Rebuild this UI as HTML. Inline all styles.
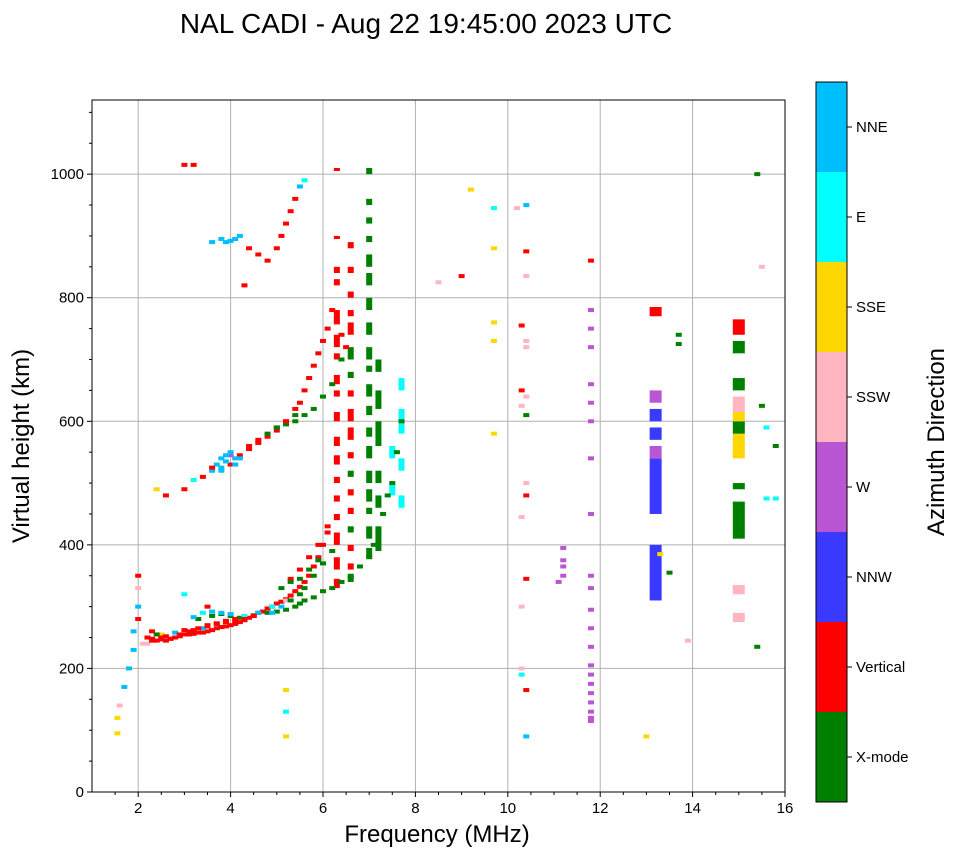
<!DOCTYPE html>
<html><head><meta charset="utf-8"><style>
body{margin:0;background:#fff;font-family:"Liberation Sans",sans-serif}
</style></head><body>
<svg id="chart" width="958" height="857" xmlns="http://www.w3.org/2000/svg">
<text x="426" y="33" font-size="28" text-anchor="middle" font-family="Liberation Sans">NAL CADI - Aug 22 19:45:00 2023 UTC</text>
<g id="grid"></g>
<g id="marks"></g>
<rect x="92" y="100" width="693" height="692" fill="none" stroke="#000" stroke-width="1"/>
<g id="axes"></g>
<text x="437" y="842" font-size="24" text-anchor="middle">Frequency (MHz)</text>
<text transform="translate(29,446) rotate(-90)" font-size="24" text-anchor="middle">Virtual height (km)</text>
<g id="cbar"></g>
<text transform="translate(944,442) rotate(-90)" font-size="24" text-anchor="middle">Azimuth Direction</text>
</svg>
<script>
const colorNames=["X-mode","Vertical","NNW","W","SSW","SSE","E","NNE"];
const colorVals=["#008000","#ff0000","#3a3aff","#ba55d3","#ffb6c1","#ffd700","#00ffff","#00bfff"];
const xTicks=[2,4,6,8,10,12,14,16];
const yTicks=[0,200,400,600,800,1000];
const ptF=[2.2,2.3,2.4,2.5,2.6,2.7,2.8,2.9,3.0,3.1,3.2,3.3,3.4,3.5,3.6,3.7,3.8,3.9,4.0,4.1,4.2,4.3,4.4,4.5,4.6,4.7,4.8,4.9,5.0,5.1,5.2,5.3,5.4,5.5,5.6,5.7,5.8,5.9,6.0,6.1,
3.3,3.6,3.8,4.0,4.2,4.5,4.8,5.0,5.2,5.4,5.5,5.6,5.8,6.0,6.2,6.4,6.6,6.8,7.0,7.1,7.2,7.3,7.4,7.5,7.6,7.7,
3.2,3.4,3.6,3.8,4.0,4.3,4.6,4.9,5.2,3.0,3.5,2.3,2.2,2.5,
3.0,3.2,3.4,3.6,3.8,4.0,4.1,4.2,4.4,4.6,4.8,5.0,5.2,5.4,5.5,5.6,5.7,5.8,5.9,6.0,6.1,6.2,6.3,6.4,6.5,
5.0,5.2,5.4,5.6,5.8,6.0,6.2,6.4,3.7,3.8,3.9,4.0,4.1,2.6,2.4,
3.6,3.8,3.9,4.0,4.1,4.2,4.4,4.6,4.8,5.0,5.1,5.2,5.3,5.4,5.5,5.6,3.0,3.2,4.3,
2.0,2.0,2.0,1.9,1.9,1.8,1.7,1.6,1.55,1.55,2.0,2.1,
5.2,5.2,5.2,8.5,9.0,9.2,9.7,9.7,9.7,9.7,9.7,
10.2,10.4,10.4,10.4,10.3,10.4,10.4,10.3,10.4,10.3,10.4,10.4,10.4,10.3,10.4,10.3,10.3,10.3,10.4,10.4,
11.2,11.2,11.2,11.2,11.1,
11.8,11.8,11.8,11.8,11.8,11.8,11.8,11.8,11.8,11.8,11.8,11.8,11.8,11.8,11.8,11.8,11.8,11.8,11.8,11.8,11.8,11.8,
13.0,13.3,13.5,13.7,13.7,13.9,15.4,15.5,15.5,15.6,15.6,15.8,15.4,15.8,
2.4,2.6,2.8,3.0,3.2,3.4,3.5,3.7,3.9,4.1,4.3,4.5,2.3,2.5,2.7,2.9,3.1,3.3,3.5,3.7,3.9,4.1,
5.3,5.5,5.7,5.9,6.1,5.6,5.8,6.0,6.2,5.1,5.3,5.5,5.7,5.9,
3.9,4.0,4.2,3.8,3.6,4.4,4.6,4.8,5.0,5.2,5.4,4.9,5.1,5.3,5.5];
const ptH=[250,248,245,247,245,248,250,252,255,255,256,258,258,260,262,265,267,268,270,272,275,278,282,285,290,292,297,300,305,308,312,318,325,332,340,350,365,380,400,420,
280,285,288,285,282,286,290,292,295,300,305,310,315,325,330,340,350,365,380,400,420,450,480,500,550,600,
283,290,292,290,288,285,290,300,310,320,300,260,240,255,
490,505,510,520,525,530,540,545,555,565,575,585,600,620,630,650,670,690,710,730,750,780,760,740,720,
590,595,600,610,620,640,660,700,530,540,535,545,530,480,490,
890,895,890,892,895,900,880,870,860,880,900,920,940,960,980,990,1015,1015,820,
350,330,300,260,230,200,170,140,120,95,280,240,
165,130,90,825,835,975,945,880,760,730,580,
945,950,875,835,755,730,720,650,640,625,610,500,480,445,345,300,200,190,165,90,
395,375,365,350,340,
860,780,750,720,660,630,600,540,450,350,330,295,265,235,205,190,175,160,145,130,115,120,
90,385,355,740,725,245,1000,850,625,590,475,560,235,475,
255,252,258,262,262,265,268,272,275,278,280,285,245,250,248,255,260,265,270,273,277,280,
345,360,380,400,430,330,350,370,390,330,340,345,360,375,
545,550,540,520,525,560,570,580,590,600,610,290,300,310,320];
const ptC=[1,1,1,1,1,1,1,1,1,1,1,1,1,1,1,1,1,1,1,1,1,1,1,1,1,1,1,1,1,1,1,1,1,1,1,1,1,1,1,1,
0,0,0,0,0,0,0,0,0,0,0,0,0,0,0,0,0,0,0,0,0,0,0,0,0,0,
7,6,7,7,7,6,7,6,4,6,1,1,4,5,
1,6,1,7,7,1,7,1,1,1,1,1,1,1,1,1,1,1,1,1,1,1,1,1,1,
0,0,0,0,0,0,0,0,7,7,7,3,7,1,5,
7,7,7,7,7,7,1,1,1,1,1,1,1,1,7,6,1,1,1,
1,4,7,7,7,7,7,4,5,5,1,4,
5,6,5,4,1,5,6,5,5,5,5,
4,7,1,4,1,4,4,1,4,4,0,4,1,4,1,4,4,6,1,7,
3,3,3,3,3,
1,3,3,3,3,3,3,3,3,3,3,3,3,3,3,3,3,3,3,3,3,3,
5,5,0,0,0,4,0,4,0,6,6,0,0,6,
0,1,7,1,1,7,1,1,1,1,1,1,1,1,1,1,1,1,1,1,1,1,
1,1,1,1,1,0,0,0,0,0,0,0,0,0,
7,7,7,7,1,1,1,0,0,1,0,7,7,0,0];
const colF=[6.3,6.3,6.3,6.3,6.3,6.3,6.3,6.3,6.3,6.3,6.3,6.3,6.3,6.3,6.3,6.3,6.3,6.3,
6.6,6.6,6.6,6.6,6.6,6.6,6.6,6.6,6.6,6.6,6.6,6.6,6.6,6.6,6.6,6.6,6.6,6.6,
7.0,7.0,7.0,7.0,7.0,7.0,7.0,7.0,7.0,7.0,7.0,7.0,7.0,7.0,7.0,7.0,7.0,7.0,7.0,
7.2,7.2,7.2,7.2,7.2,7.2,7.5,7.5,7.7,7.7,7.7,7.7,
13.2,13.2,13.2,13.2,13.2,13.2,13.2,15.0,15.0,15.0,15.0,15.0,15.0,15.0,15.0,15.0,15.0,15.0];
const colL=[330,360,400,440,470,500,530,560,600,640,660,700,720,760,820,840,895,1005,
340,360,390,420,450,480,510,540,570,600,640,670,700,740,770,800,840,880,
380,410,450,470,500,540,575,610,640,680,700,740,780,820,850,890,920,950,1000,
390,460,500,560,620,680,480,540,460,520,580,650,
310,450,540,570,600,630,770,410,490,540,580,600,615,650,710,740,320,275];
const colH=[345,380,420,450,480,510,545,575,615,650,675,710,740,780,830,850,900,1010,
350,370,400,430,460,490,520,550,590,620,650,680,720,760,780,810,850,890,
395,430,460,490,520,560,590,625,660,690,720,760,800,840,870,900,930,960,1010,
430,480,520,600,650,700,500,560,480,540,620,670,
400,540,560,590,620,650,785,470,500,580,600,615,640,670,730,765,335,290];
const colC=[1,1,1,1,1,1,1,1,1,1,1,1,1,1,1,1,1,1,
0,1,1,0,1,1,0,1,1,1,1,0,0,1,1,1,1,1,
0,0,0,0,0,0,0,0,0,0,0,0,0,0,0,0,0,0,0,
0,0,0,0,0,0,6,6,6,6,6,6,
2,2,3,2,2,3,1,0,0,5,0,5,4,0,0,1,4,4];
const NS="http://www.w3.org/2000/svg";
const X0=92,X1=785,Y0=792,Y1=100;
function sx(f){return X0+(f-1)/(16-1)*(X1-X0);}
function sy(h){return Y0-h/1120*(Y0-Y1);}
function mk(tag,a){const e=document.createElementNS(NS,tag);for(const k in a)e.setAttribute(k,a[k]);return e;}
const grid=document.getElementById('grid'),axes=document.getElementById('axes'),marks=document.getElementById('marks'),cbar=document.getElementById('cbar');
xTicks.forEach(t=>{const x=sx(t);
 const g=mk('line',{x1:x,x2:x,y1:Y1,y2:Y0,stroke:'#b0b0b0','stroke-width':1});
 
 grid.appendChild(g);
 const tk=mk('line',{x1:x,x2:x,y1:Y0,y2:Y0+5,stroke:'#000'});
 
 axes.appendChild(tk);
 const tx=mk('text',{x:x,y:Y0+21,'font-size':15,'text-anchor':'middle'});tx.textContent=t;
 
 axes.appendChild(tx);});
for(let f=1.5;f<16;f+=0.5){if(Math.abs(f-Math.round(f/2)*2)<0.01)continue;const x=sx(f);
 const m=mk('line',{x1:x,x2:x,y1:Y0,y2:Y0+3,stroke:'#000'});
 
 axes.appendChild(m);}
yTicks.forEach(t=>{const y=sy(t);
 const g=mk('line',{x1:X0,x2:X1,y1:y,y2:y,stroke:'#b0b0b0','stroke-width':1});
 
 grid.appendChild(g);
 const tk=mk('line',{x1:X0-5,x2:X0,y1:y,y2:y,stroke:'#000'});
 
 axes.appendChild(tk);
 const tx=mk('text',{x:X0-8,y:y+5,'font-size':15,'text-anchor':'end'});tx.textContent=t;
 
 axes.appendChild(tx);});
for(let h=50;h<1120;h+=50){if(h%200===0)continue;const y=sy(h);
 const m=mk('line',{x1:X0-3,x2:X0,y1:y,y2:y,stroke:'#000'});
 
 axes.appendChild(m);}
colF.forEach((f,i)=>{const y1=sy(colH[i]),y2=sy(colL[i]);const wide=f>12;
 const r=mk('rect',{x:sx(f)-(wide?6:3),y:y1,width:wide?12:6,height:Math.max(3,y2-y1),fill:colorVals[colC[i]]});
 
 marks.appendChild(r);});
ptF.forEach((f,i)=>{
 const r=mk('rect',{x:sx(f)-3,y:sy(ptH[i])-2,width:6,height:4,fill:colorVals[ptC[i]]});
 
 marks.appendChild(r);});
const cbX=816,cbW=31,cbTop=82,seg=90;
colorNames.forEach((n,i)=>{const y=cbTop+(7-i)*seg;
 const r=mk('rect',{x:cbX,y:y,width:cbW,height:seg,fill:colorVals[i]});
 
 cbar.appendChild(r);
 const tk=mk('line',{x1:cbX+cbW,x2:cbX+cbW+5,y1:y+seg/2,y2:y+seg/2,stroke:'#000'});
 
 cbar.appendChild(tk);
 const t=mk('text',{x:cbX+cbW+9,y:y+seg/2+5,'font-size':15});t.textContent=n;
 
 cbar.appendChild(t);});
const fr=mk('rect',{x:cbX,y:cbTop,width:cbW,height:seg*8,fill:'none',stroke:'#000'});

cbar.appendChild(fr);
</script>
</body></html>
